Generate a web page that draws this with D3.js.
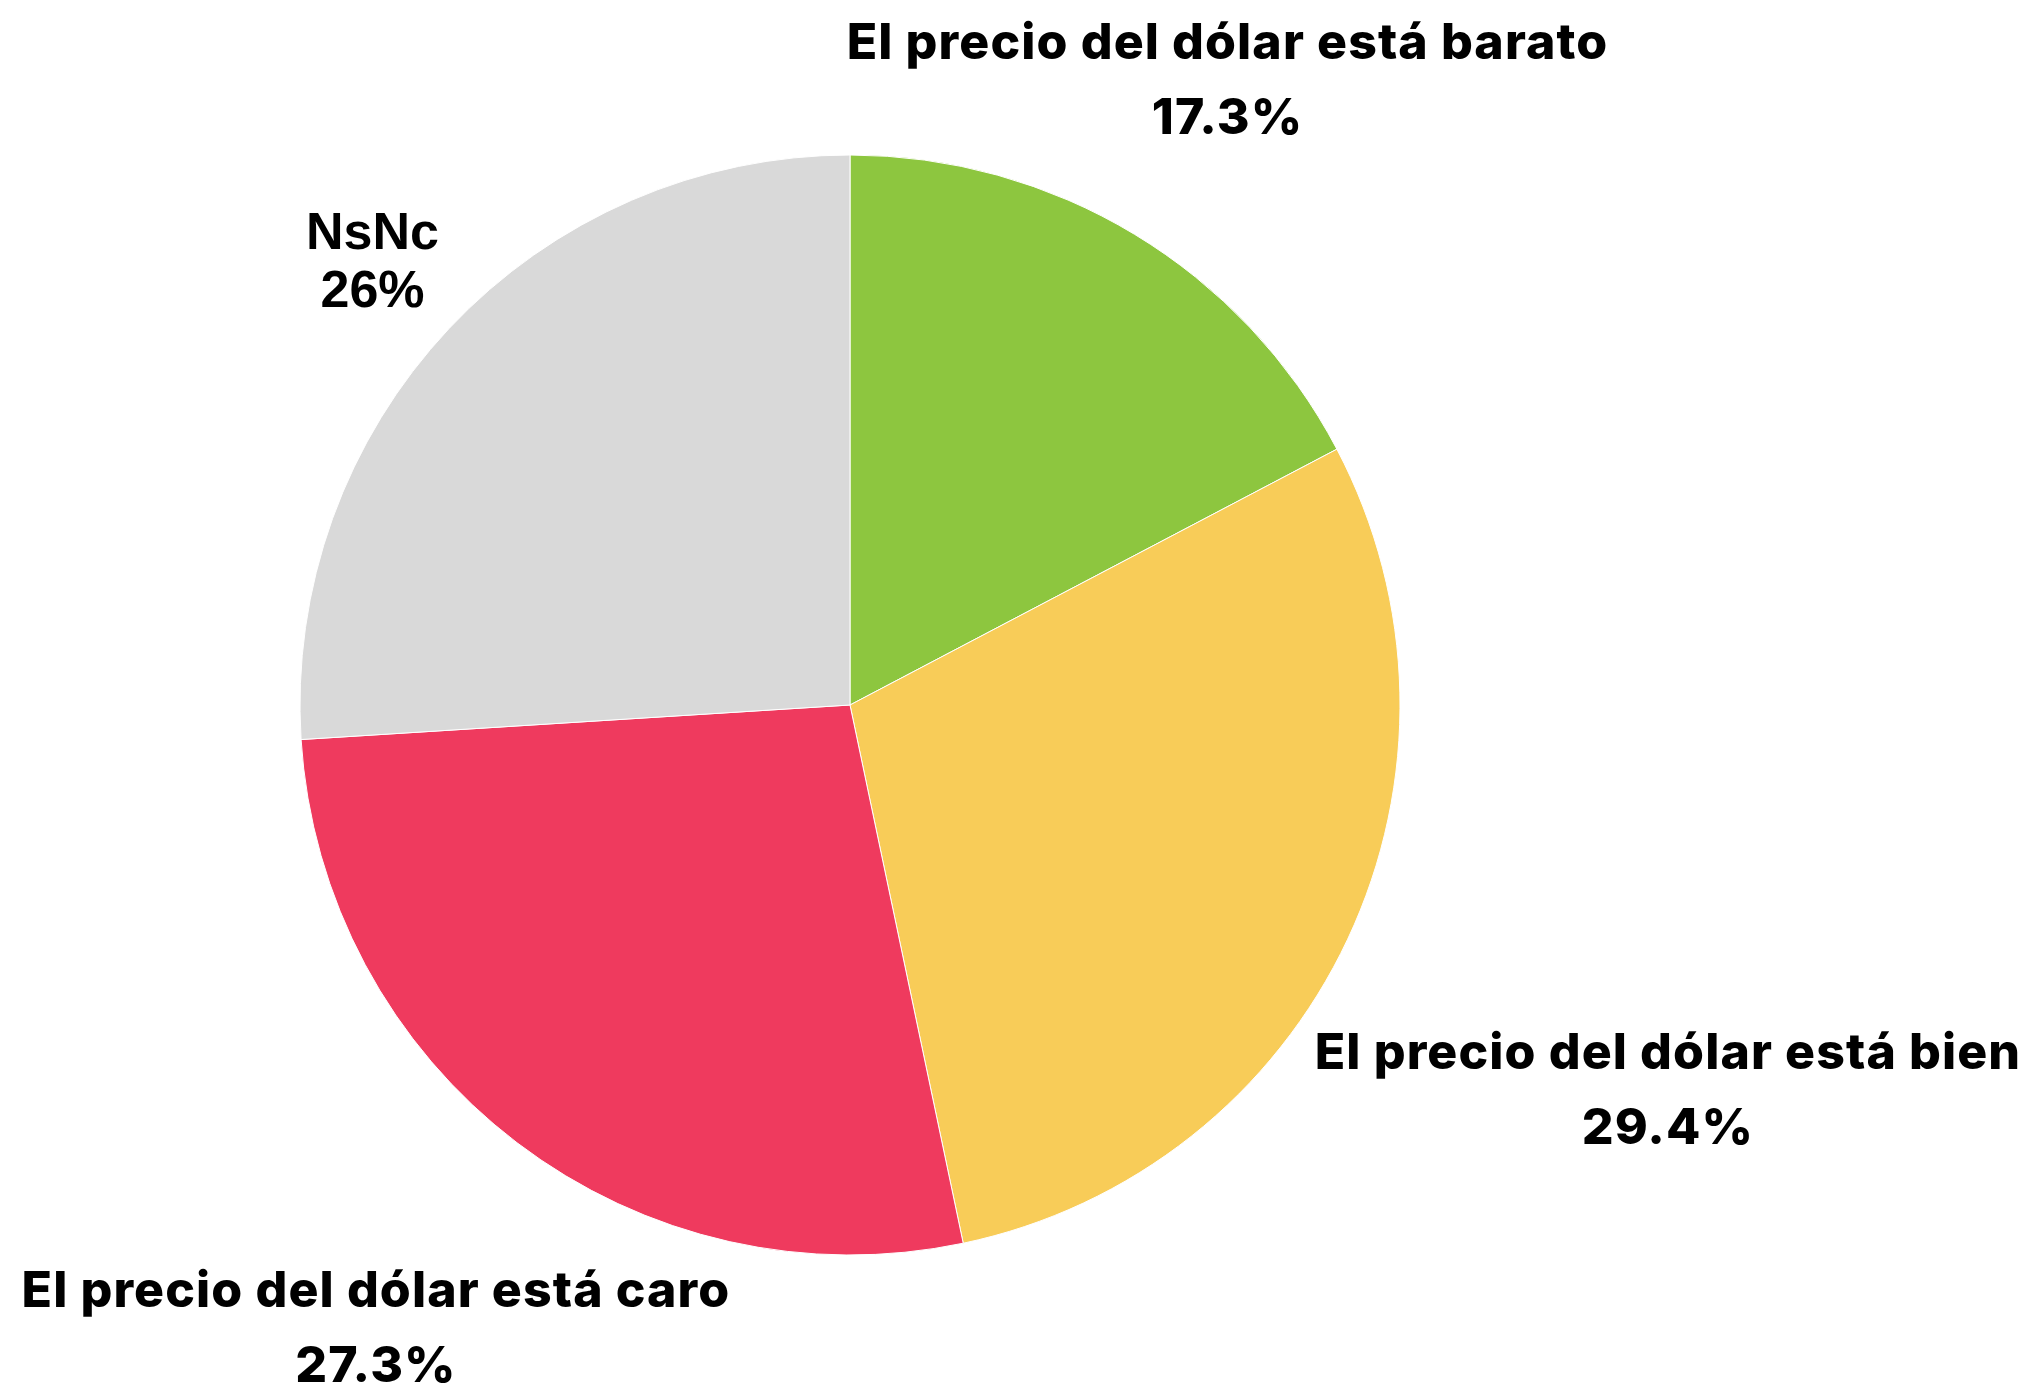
<!DOCTYPE html>
<html>
<head>
<meta charset="utf-8">
<script src="https://cdn.jsdelivr.net/npm/d3@7.9.0/dist/d3.min.js"></script>
<style>
  html, body { margin: 0; padding: 0; background: #fff; }
  svg { display: block; }
</style>
</head>
<body>
<svg id="chart" width="2028" height="1384"></svg>
<script>
// data, clockwise from 12 o'clock
const labels = [
  "El precio del dólar está barato",
  "El precio del dólar está bien",
  "El precio del dólar está caro",
  "NsNc"
];
const values = [17.3, 29.4, 27.3, 26];
const colors = ["#8dc63f", "#f8cc58", "#ef3a5e", "#d9d9d9"];

const width = 2028, height = 1384;
const cx = 850, cy = 705, radius = 550;
// how far out each label sits from the centre
const labelDist = [730, 904, 783, 655];

const svg = d3.select("#chart");
const g = svg.append("g").attr("transform", `translate(${cx},${cy})`);

let pie = d3.pie().value(d => d.value).sort(null);
let arcData = pie(values.map((v, i) => ({ label: labels[i], value: v })));
let arcGen = d3.arc().innerRadius(0).outerRadius(radius);

g.selectAll("path")
  .data(arcData)
  .enter()
  .append("path")
  .attr("d", arcGen)
  .attr("fill", (_, i) => colors[i])
  .attr("stroke", "#fff")
  .attr("stroke-width", 1);

// labels: two lines, name + percentage
const isShort = d => d.data.label === "NsNc";

const lbl = g.selectAll("text.lbl")
  .data(arcData)
  .enter()
  .append("text")
  .attr("class", "lbl")
  .attr("text-anchor", "middle")
  .attr("font-family", d => isShort(d) ? "'Liberation Sans', Arial, sans-serif" : "Inter, 'Open Sans', sans-serif")
  .attr("font-weight", d => isShort(d) ? 700 : 800)
  .attr("font-size", d => isShort(d) ? 52 : 50)
  .attr("letter-spacing", d => isShort(d) ? 0 : 1.1)
  .attr("fill", "#000")
  .attr("transform", (d, i) => {
    let a = (d.startAngle + d.endAngle) / 2;
    let x = Math.sin(a) * labelDist[i];
    let y = -Math.cos(a) * labelDist[i];
    return `translate(${x},${y})`;
  });

lbl.append("tspan")
  .attr("x", 0)
  .attr("dy", d => isShort(d) ? "-0.15em" : "-0.42em")
  .text(d => d.data.label);

lbl.append("tspan")
  .attr("x", 0)
  .attr("dy", d => isShort(d) ? "1.12em" : "1.5em")
  .text(d => d3.format("~")(d.data.value) + "%");
</script>
</body>
</html>
